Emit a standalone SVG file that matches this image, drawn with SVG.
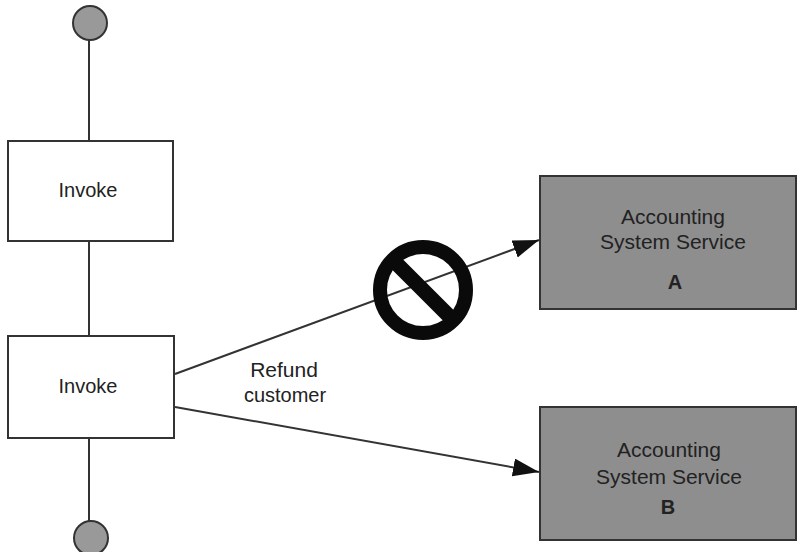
<svg xmlns="http://www.w3.org/2000/svg" width="800" height="552" viewBox="0 0 800 552">
<defs>
<style>
.t{font-family:"Liberation Sans",Arial,sans-serif;font-size:20px;fill:#222;text-anchor:middle}
.s{font-size:21px}
.b{font-weight:bold}
.box{fill:#fff;stroke:#333;stroke-width:2}
.svc{fill:#8e8e8e;stroke:#333;stroke-width:2}
.dot{fill:#999;stroke:#333;stroke-width:2}
.c{stroke:#333;stroke-width:2;fill:none}
</style>
<marker id="a" markerUnits="userSpaceOnUse" markerWidth="28" markerHeight="20" refX="26" refY="9" orient="auto"><path d="M0 0L26 9L0 18Z" fill="#111"/></marker>
</defs>
<rect width="800" height="552" fill="#fff"/>
<g id="connectors">
<path class="c" d="M89 40V141"/>
<path class="c" d="M89 241V336"/>
<path class="c" d="M89 438V522"/>
<path class="c" d="M175 374L539 240" marker-end="url(#a)"/>
<path class="c" d="M175 407L539 472" marker-end="url(#a)"/>
</g>
<g id="start"><circle class="dot" cx="90" cy="23" r="17"/></g>
<g id="invoke1"><rect class="box" x="8" y="141" width="165" height="100"/><text class="t" x="88" y="197">Invoke</text></g>
<g id="invoke2"><rect class="box" x="8" y="336" width="166" height="102"/><text class="t" x="88" y="393">Invoke</text></g>
<g id="end"><circle class="dot" cx="91" cy="538" r="17"/></g>
<g id="serviceA"><rect class="svc" x="540" y="176" width="256" height="133"/><text class="t s" x="673" y="224">Accounting</text><text class="t s" x="673" y="249">System Service</text><text class="t b" x="675" y="289">A</text></g>
<g id="serviceB"><rect class="svc" x="540" y="407" width="256" height="133"/><text class="t s" x="669" y="457">Accounting</text><text class="t s" x="669" y="484">System Service</text><text class="t b" x="668" y="514">B</text></g>
<g id="blocked"><circle cx="423" cy="290" r="43" fill="none" stroke="#0a0a0a" stroke-width="14"/><path d="M394 261L452 319" stroke="#0a0a0a" stroke-width="15"/></g>
<g id="label"><text class="t s" x="284" y="377">Refund</text><text class="t" x="285" y="402">customer</text></g>
</svg>
